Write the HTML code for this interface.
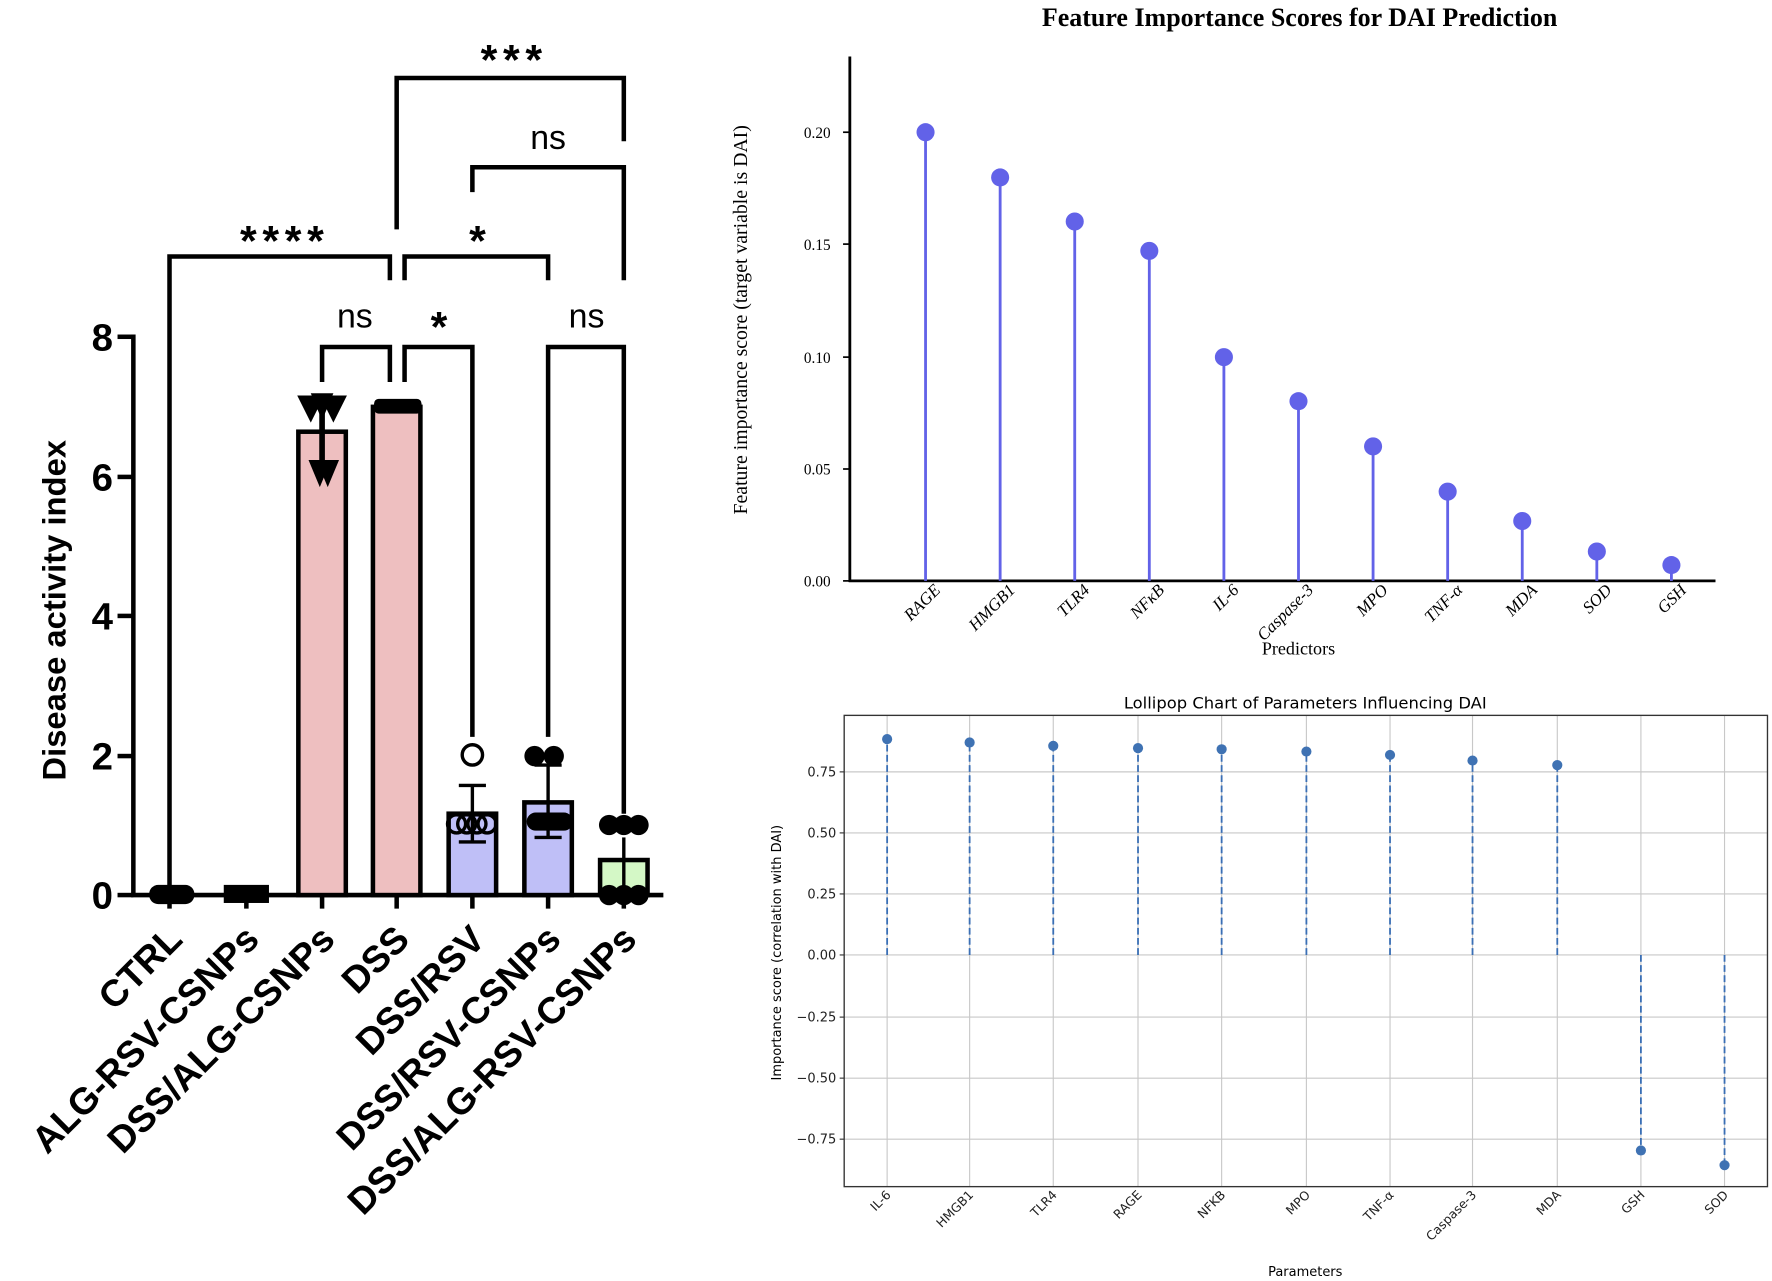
<!DOCTYPE html>
<html><head><meta charset="utf-8"><style>html,body{margin:0;padding:0;background:#fff;}svg{display:block}</style></head>
<body>
<svg width="1772" height="1281" viewBox="0 0 1568 1133.5" preserveAspectRatio="none" xmlns="http://www.w3.org/2000/svg">
<rect width="1568" height="1134" fill="#fff"/>
<!-- LEFT CHART -->
<g font-family="Liberation Sans, sans-serif" font-weight="bold">
<g stroke="#000" stroke-width="4" fill="none">
<line x1="118" y1="296" x2="118" y2="792"/>
<line x1="116" y1="792" x2="587" y2="792"/>
<line x1="104" y1="298" x2="118" y2="298"/>
<line x1="104" y1="422" x2="118" y2="422"/>
<line x1="104" y1="545" x2="118" y2="545"/>
<line x1="104" y1="669" x2="118" y2="669"/>
<line x1="104" y1="792" x2="118" y2="792"/>
<line x1="150" y1="792" x2="150" y2="804"/><line x1="218" y1="792" x2="218" y2="804"/>
<line x1="285" y1="792" x2="285" y2="804"/><line x1="351" y1="792" x2="351" y2="804"/>
<line x1="418" y1="792" x2="418" y2="804"/><line x1="485" y1="792" x2="485" y2="804"/>
<line x1="552" y1="792" x2="552" y2="804"/>
</g>
<g font-size="34" text-anchor="end">
<text x="100" y="310">8</text><text x="100" y="434">6</text><text x="100" y="557">4</text><text x="100" y="681">2</text><text x="100" y="804">0</text>
</g>
<text transform="translate(58,540) rotate(-90)" font-size="29" text-anchor="middle">Disease activity index</text>
<!-- bars -->
<g stroke="#000" stroke-width="4">
<rect x="264" y="382" width="42" height="410" fill="#eebfc0"/>
<rect x="330" y="360" width="42" height="432" fill="#eebfc0"/>
<rect x="397" y="720" width="42" height="72" fill="#bfbff7"/>
<rect x="464" y="710" width="42" height="82" fill="#bfbff7"/>
<rect x="531" y="761" width="42" height="31" fill="#d4f8c6"/>
</g>
<!-- error bars -->
<g stroke="#000" stroke-width="3">
<line x1="285" y1="352" x2="285" y2="420" stroke-width="5"/>
<line x1="418" y1="695" x2="418" y2="745"/><line x1="406" y1="695" x2="430" y2="695"/><line x1="406" y1="745" x2="430" y2="745"/>
<line x1="485" y1="677" x2="485" y2="741"/><line x1="473" y1="677" x2="497" y2="677"/><line x1="473" y1="741" x2="497" y2="741"/>
<line x1="552" y1="741" x2="552" y2="792"/>
</g>
<!-- points -->
<g fill="#000">
<rect x="132" y="783" width="40" height="17" rx="8"/>
<rect x="198" y="783" width="40" height="16"/>
<polygon points="263,350 287,350 275,374"/><polygon points="283,350 307,350 295,374"/><polygon points="275,348 295,348 285,372"/>
<polygon points="273,407 293,407 283,431"/><polygon points="280,407 300,407 290,431"/>
<rect x="331" y="353" width="42" height="13" rx="4"/>
<circle cx="473" cy="669" r="9"/><circle cx="490" cy="669" r="9"/>
<rect x="466" y="719" width="41" height="16" rx="8"/>
<circle cx="539" cy="730" r="9"/><circle cx="552" cy="730" r="9"/><circle cx="565" cy="730" r="9"/>
<circle cx="539" cy="792" r="9"/><circle cx="552" cy="792" r="9"/><circle cx="565" cy="792" r="9"/>
</g>
<g fill="none" stroke="#000" stroke-width="3">
<circle cx="418" cy="668" r="9"/>
<circle cx="404" cy="729" r="8"/><circle cx="413" cy="729" r="8"/><circle cx="422" cy="729" r="8"/><circle cx="431" cy="729" r="8"/>
</g>
<!-- brackets -->
<g stroke="#000" stroke-width="4" fill="none">
<polyline points="285,338 285,307 345,307 345,338"/>
<polyline points="358,338 358,307 418,307 418,652"/>
<polyline points="485,652 485,307 552,307 552,720"/>
<polyline points="150,785 150,227 345,227 345,248"/>
<polyline points="358,248 358,227 485,227 485,248"/>
<polyline points="418,170 418,148 552,148 552,248"/>
<polyline points="351,203 351,69 552,69 552,125"/>
</g>
<g font-size="30" text-anchor="middle" font-weight="normal">
<text x="314" y="290">ns</text><text x="519" y="290">ns</text><text x="485" y="132">ns</text>
</g>
<g font-size="38" text-anchor="middle" letter-spacing="5">
<text x="252" y="226">****</text><text x="425" y="226">*</text><text x="391" y="302">*</text><text x="455" y="66">***</text>
</g>
<g font-size="33" text-anchor="end">
<text transform="translate(163,833) rotate(-45)">CTRL</text>
<text transform="translate(231,833) rotate(-45)">ALG-RSV-CSNPs</text>
<text transform="translate(298,833) rotate(-45)">DSS/ALG-CSNPs</text>
<text transform="translate(364,833) rotate(-45)">DSS</text>
<text transform="translate(431,833) rotate(-45)">DSS/RSV</text>
<text transform="translate(498,833) rotate(-45)">DSS/RSV-CSNPs</text>
<text transform="translate(565,833) rotate(-45)">DSS/ALG-RSV-CSNPs</text>
</g>
</g>
<!-- TOP RIGHT -->
<g font-family="Liberation Serif, serif">
<text x="1150" y="23" font-size="23" font-weight="bold" text-anchor="middle">Feature Importance Scores for DAI Prediction</text>
<g stroke="#000" stroke-width="2.5"><line x1="752" y1="50" x2="752" y2="515"/><line x1="751" y1="514" x2="1518" y2="514"/></g>
<g stroke="#000" stroke-width="1.5">
<line x1="746" y1="514" x2="752" y2="514"/><line x1="746" y1="415" x2="752" y2="415"/><line x1="746" y1="316" x2="752" y2="316"/><line x1="746" y1="216" x2="752" y2="216"/><line x1="746" y1="117" x2="752" y2="117"/>
</g>
<g font-size="13.5" text-anchor="end">
<text x="735" y="519">0.00</text><text x="735" y="420">0.05</text><text x="735" y="321">0.10</text><text x="735" y="221">0.15</text><text x="735" y="122">0.20</text>
</g>
<text transform="translate(661,283) rotate(-90)" font-size="17.5" text-anchor="middle">Feature importance score (target variable is DAI)</text>
<g stroke="#6262e8" stroke-width="2.5">
<line x1="819" y1="514" x2="819" y2="117"/><line x1="885" y1="514" x2="885" y2="157"/><line x1="951" y1="514" x2="951" y2="196"/><line x1="1017" y1="514" x2="1017" y2="222"/><line x1="1083" y1="514" x2="1083" y2="316"/><line x1="1149" y1="514" x2="1149" y2="355"/><line x1="1215" y1="514" x2="1215" y2="395"/><line x1="1281" y1="514" x2="1281" y2="435"/><line x1="1347" y1="514" x2="1347" y2="461"/><line x1="1413" y1="514" x2="1413" y2="488"/><line x1="1479" y1="514" x2="1479" y2="500"/>
</g>
<g fill="#6262e8">
<circle cx="819" cy="117" r="8"/><circle cx="885" cy="157" r="8"/><circle cx="951" cy="196" r="8"/><circle cx="1017" cy="222" r="8"/><circle cx="1083" cy="316" r="8"/><circle cx="1149" cy="355" r="8"/><circle cx="1215" cy="395" r="8"/><circle cx="1281" cy="435" r="8"/><circle cx="1347" cy="461" r="8"/><circle cx="1413" cy="488" r="8"/><circle cx="1479" cy="500" r="8"/>
</g>
<g font-size="15" font-style="italic" text-anchor="end">
<text transform="translate(833,523) rotate(-45)">RAGE</text>
<text transform="translate(899,523) rotate(-45)">HMGB1</text>
<text transform="translate(965,523) rotate(-45)">TLR4</text>
<text transform="translate(1031,523) rotate(-45)">NFκB</text>
<text transform="translate(1097,523) rotate(-45)">IL-6</text>
<text transform="translate(1163,523) rotate(-45)">Caspase-3</text>
<text transform="translate(1229,523) rotate(-45)">MPO</text>
<text transform="translate(1295,523) rotate(-45)">TNF-α</text>
<text transform="translate(1361,523) rotate(-45)">MDA</text>
<text transform="translate(1427,523) rotate(-45)">SOD</text>
<text transform="translate(1493,523) rotate(-45)">GSH</text>
</g>
<text x="1149" y="579" font-size="16" text-anchor="middle">Predictors</text>
</g>
<!-- BOTTOM RIGHT -->
<g font-family="DejaVu Sans, sans-serif">
<text x="1155" y="627" font-size="14.5" text-anchor="middle">Lollipop Chart of Parameters Influencing DAI</text>
<g stroke="#c8c8c8" stroke-width="1">
<line x1="747" y1="683" x2="1564" y2="683"/><line x1="747" y1="737" x2="1564" y2="737"/><line x1="747" y1="791" x2="1564" y2="791"/><line x1="747" y1="845" x2="1564" y2="845"/><line x1="747" y1="900" x2="1564" y2="900"/><line x1="747" y1="954" x2="1564" y2="954"/><line x1="747" y1="1008" x2="1564" y2="1008"/>
<line x1="785" y1="633" x2="785" y2="1050"/><line x1="858" y1="633" x2="858" y2="1050"/><line x1="932" y1="633" x2="932" y2="1050"/><line x1="1007" y1="633" x2="1007" y2="1050"/><line x1="1081" y1="633" x2="1081" y2="1050"/><line x1="1156" y1="633" x2="1156" y2="1050"/><line x1="1230" y1="633" x2="1230" y2="1050"/><line x1="1303" y1="633" x2="1303" y2="1050"/><line x1="1378" y1="633" x2="1378" y2="1050"/><line x1="1452" y1="633" x2="1452" y2="1050"/><line x1="1526" y1="633" x2="1526" y2="1050"/>
</g>
<rect x="747" y="633" width="817" height="417" fill="none" stroke="#333" stroke-width="1.2"/>
<g stroke="#333" stroke-width="1">
<line x1="743" y1="683" x2="747" y2="683"/><line x1="743" y1="737" x2="747" y2="737"/><line x1="743" y1="791" x2="747" y2="791"/><line x1="743" y1="845" x2="747" y2="845"/><line x1="743" y1="900" x2="747" y2="900"/><line x1="743" y1="954" x2="747" y2="954"/><line x1="743" y1="1008" x2="747" y2="1008"/>
</g>
<g font-size="11.5" text-anchor="end" fill="#222">
<text x="740" y="687">0.75</text><text x="740" y="741">0.50</text><text x="740" y="795">0.25</text><text x="740" y="849">0.00</text><text x="740" y="904">−0.25</text><text x="740" y="958">−0.50</text><text x="740" y="1012">−0.75</text>
</g>
<text transform="translate(691,843) rotate(-90)" font-size="11.5" text-anchor="middle">Importance score (correlation with DAI)</text>
<g stroke="#3a6fb5" stroke-width="1.6" stroke-dasharray="6,3">
<line x1="785" y1="845" x2="785" y2="654"/><line x1="858" y1="845" x2="858" y2="657"/><line x1="932" y1="845" x2="932" y2="660"/><line x1="1007" y1="845" x2="1007" y2="662"/><line x1="1081" y1="845" x2="1081" y2="663"/><line x1="1156" y1="845" x2="1156" y2="665"/><line x1="1230" y1="845" x2="1230" y2="668"/><line x1="1303" y1="845" x2="1303" y2="673"/><line x1="1378" y1="845" x2="1378" y2="677"/><line x1="1452" y1="845" x2="1452" y2="1018"/><line x1="1526" y1="845" x2="1526" y2="1031"/>
</g>
<g fill="#3f72b3">
<circle cx="785" cy="654" r="4.5"/><circle cx="858" cy="657" r="4.5"/><circle cx="932" cy="660" r="4.5"/><circle cx="1007" cy="662" r="4.5"/><circle cx="1081" cy="663" r="4.5"/><circle cx="1156" cy="665" r="4.5"/><circle cx="1230" cy="668" r="4.5"/><circle cx="1303" cy="673" r="4.5"/><circle cx="1378" cy="677" r="4.5"/><circle cx="1452" cy="1018" r="4.5"/><circle cx="1526" cy="1031" r="4.5"/>
</g>
<g font-size="11" text-anchor="end" fill="#222">
<text transform="translate(789,1058) rotate(-45)">IL-6</text>
<text transform="translate(862,1058) rotate(-45)">HMGB1</text>
<text transform="translate(936,1058) rotate(-45)">TLR4</text>
<text transform="translate(1011,1058) rotate(-45)">RAGE</text>
<text transform="translate(1085,1058) rotate(-45)">NFKB</text>
<text transform="translate(1160,1058) rotate(-45)">MPO</text>
<text transform="translate(1234,1058) rotate(-45)">TNF-α</text>
<text transform="translate(1307,1058) rotate(-45)">Caspase-3</text>
<text transform="translate(1382,1058) rotate(-45)">MDA</text>
<text transform="translate(1456,1058) rotate(-45)">GSH</text>
<text transform="translate(1530,1058) rotate(-45)">SOD</text>
</g>
<text x="1155" y="1129" font-size="11.5" text-anchor="middle">Parameters</text>
</g>
</svg>
</body></html>
